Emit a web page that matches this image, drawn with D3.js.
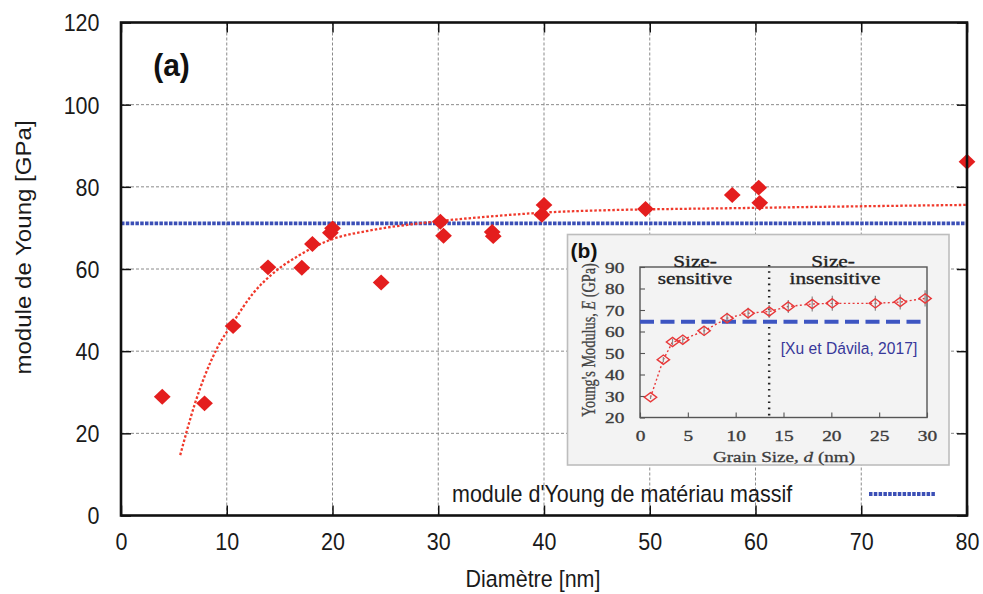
<!DOCTYPE html>
<html><head><meta charset="utf-8">
<script src="https://cdn.jsdelivr.net/npm/d3@7"></script>
<style>html,body{margin:0;padding:0;background:#fff;} svg{display:block;}</style>
</head><body>
<svg id="c" width="983" height="594"></svg>
<script>
// ---------- main chart data ----------
const xTicks = [0, 10, 20, 30, 40, 50, 60, 70, 80];
const yTicks = [0, 20, 40, 60, 80, 100, 120];
const diameters    = [3.9, 7.9, 10.6, 13.9, 17.1, 18.1, 20.0, 19.8, 24.6, 30.2, 30.5, 35.1, 35.2, 40.0, 39.8, 49.6, 57.8, 60.3, 60.4, 80.0];
const youngModulus = [28.9, 27.3, 46.1, 60.4, 60.3, 66.1, 69.9, 68.8, 56.7, 71.5, 68.1, 69.0, 68.0, 75.6, 73.2, 74.6, 78.0, 79.8, 76.1, 86.1];
const fitDiameters = [5.6, 7.0, 9.0, 10.6, 12.5, 14.4, 16.9, 19.4, 23.8, 28.2, 34.5, 42.1, 60.4, 80.0];
const fitModulus   = [14.7, 27.3, 40.3, 47.0, 54.1, 59.0, 63.4, 66.7, 69.5, 71.1, 72.7, 74.0, 74.9, 75.6];
const bulkModulus = 71.1;
const legendLabel = "module d'Young de matériau massif";
const xLabel = "Diamètre [nm]";
const yLabel = "module de Young [GPa]";

// ---------- inset (b) data ----------
const insetXTicks = [0, 5, 10, 15, 20, 25, 30];
const insetYTicks = [20, 30, 40, 50, 60, 70, 80, 90];
const insetGrain   = [1.1, 2.44, 3.4, 4.47, 6.7, 9.1, 11.3, 13.5, 15.5, 18.0, 20.1, 24.6, 27.2, 29.8];
const insetModulus = [29.4, 46.9, 55.1, 56.2, 60.3, 66.2, 68.5, 69.3, 71.6, 72.8, 73.1, 73.1, 73.7, 75.4];
const insetError   = [0.8, 1.2, 1.5, 1.5, 2.0, 2.5, 2.5, 3.0, 3.0, 3.5, 3.5, 3.5, 3.5, 3.8];
const insetBulk = 64.5;
const insetBoundary = 13.5;

const svg = d3.select("#c");
const FONT = "'Liberation Sans', Arial, sans-serif";
const SERIF = "'Liberation Serif', 'Times New Roman', serif";

function txt(g, px, py, str, o) {
  o = o || {};
  const t = g.append("text")
    .attr("transform", `translate(${px},${py}) rotate(${o.rot || 0}) scale(${o.sx || 1},${o.sy || 1})`)
    .attr("text-anchor", o.anchor || "middle")
    .attr("dominant-baseline", "central")
    .attr("font-family", o.family || FONT)
    .attr("font-size", o.size || 21.5)
    .attr("font-weight", o.weight || "normal")
    .attr("fill", o.fill || "#1a1a1a");
  if (o.stroke) t.attr("stroke", o.fill).attr("stroke-width", o.stroke);
  if (Array.isArray(str)) {
    str.forEach(s => t.append("tspan").attr("font-style", s.italic ? "italic" : null).text(s.t));
  } else t.text(str);
  return t;
}

// ---------- scales ----------
const x = d3.scaleLinear().domain([0, 80]).range([121, 967]);
const y = d3.scaleLinear().domain([0, 120]).range([515.5, 22.5]);

// grid
const grid = svg.append("g").attr("stroke", "#8a8a8a").attr("stroke-width", 1).attr("stroke-dasharray", "3,2");
grid.selectAll("line.v").data(xTicks.slice(1, -1)).join("line")
  .attr("x1", d => x(d)).attr("x2", d => x(d)).attr("y1", y(0)).attr("y2", y(120));
grid.selectAll("line.h").data(yTicks.slice(1, -1)).join("line")
  .attr("y1", d => y(d)).attr("y2", d => y(d)).attr("x1", x(0)).attr("x2", x(80));

// axes (inward ticks, mirrored)
const SY = 1.12;
const gL = svg.append("g").attr("transform", `translate(${x(0)},0)`)
  .call(d3.axisLeft(y).tickValues(yTicks).tickSizeInner(-10).tickSizeOuter(0).tickPadding(21.5));
const gB = svg.append("g").attr("transform", `translate(0,${y(0)})`)
  .call(d3.axisBottom(x).tickValues(xTicks).tickSizeInner(-10).tickSizeOuter(0));
const gR = svg.append("g").attr("transform", `translate(${x(80)},0)`)
  .call(d3.axisRight(y).tickValues(yTicks).tickSizeInner(-10).tickSizeOuter(0).tickFormat(""));
const gT = svg.append("g").attr("transform", `translate(0,${y(120)})`)
  .call(d3.axisTop(x).tickValues(xTicks).tickSizeInner(-10).tickSizeOuter(0).tickFormat(""));
[gL, gB, gR, gT].forEach(g => {
  g.select(".domain").remove();
  g.selectAll("line").attr("stroke", "#111").attr("stroke-width", 1.5);
  g.selectAll("text").attr("font-family", FONT).attr("font-size", 21.5).attr("fill", "#1a1a1a");
});
gL.selectAll("text").attr("dy", null).attr("dominant-baseline", "central").attr("transform", `scale(1,${SY})`);
gB.selectAll("text").attr("dy", null).attr("dominant-baseline", "central").attr("y", 26 / SY).attr("transform", `scale(1,${SY})`);

// bulk modulus line
const lineGen = d3.line().x(d => x(d[0])).y(d => y(d[1]));
svg.append("path").datum([[0, bulkModulus], [80, bulkModulus]])
  .attr("d", lineGen).attr("fill", "none").attr("stroke", "#3b4fb6").attr("stroke-width", 3.8)
  .attr("stroke-dasharray", "3.5,1.3");

// fit curve
const fitLine = d3.line().x(d => x(d[0])).y(d => y(d[1])).curve(d3.curveMonotoneX);
svg.append("path").datum(fitDiameters.map((d, i) => [d, fitModulus[i]]))
  .attr("d", fitLine).attr("fill", "none").attr("stroke", "#f0392b").attr("stroke-width", 2.3)
  .attr("stroke-dasharray", "2.5,2");

// markers
const diamond = d3.symbol().type(d3.symbolSquare).size(140);
svg.append("g").selectAll("path").data(diameters.map((d, i) => [d, youngModulus[i]])).join("path")
  .attr("d", diamond)
  .attr("transform", d => `translate(${x(d[0])},${y(d[1])}) scale(1,0.95) rotate(45)`)
  .attr("fill", "#e41e1e");

// ---------- inset ----------
const ins = svg.append("g");
ins.append("rect").attr("x", 567.5).attr("y", 234.5).attr("width", 381.5).attr("height", 230.5)
  .attr("fill", "#f3f3f3").attr("stroke", "#bdbdbd").attr("stroke-width", 1.6);

const xi = d3.scaleLinear().domain([0, 30]).range([640, 927]);
const yi = d3.scaleLinear().domain([20, 90]).range([417.5, 267]);
const ISX = 1.25;

const iL = ins.append("g").attr("transform", `translate(${xi(0)},0)`)
  .call(d3.axisLeft(yi).tickValues(insetYTicks).tickSizeInner(-5).tickSizeOuter(0));
const iB = ins.append("g").attr("transform", `translate(0,${yi(20)})`)
  .call(d3.axisBottom(xi).tickValues(insetXTicks).tickSizeInner(-5).tickSizeOuter(0));
[iL, iB].forEach(g => {
  g.select(".domain").remove();
  g.selectAll("line").attr("stroke", "#555").attr("stroke-width", 1.1);
  g.selectAll("text").attr("font-family", SERIF).attr("font-size", 15.5).attr("fill", "#3c3c3c")
    .attr("stroke", "#3c3c3c").attr("stroke-width", 0.35)
    .attr("dy", null).attr("dominant-baseline", "central");
});
iL.selectAll("text").attr("x", -15.7 / ISX).attr("transform", `scale(${ISX},1)`);
iB.selectAll("text").attr("y", 18).attr("transform", `scale(${ISX},1)`);

// inner frame
ins.append("rect").attr("x", xi(0)).attr("y", yi(90)).attr("width", xi(30) - xi(0)).attr("height", yi(20) - yi(90))
  .attr("fill", "none").attr("stroke", "#555").attr("stroke-width", 1.4);

// boundary (dotted vertical)
ins.append("line").attr("x1", xi(insetBoundary)).attr("x2", xi(insetBoundary))
  .attr("y1", yi(90) - 2).attr("y2", yi(20))
  .attr("stroke", "#222").attr("stroke-width", 2.4).attr("stroke-dasharray", "1.6,4.6");

// reference dashed line
ins.append("path").datum([[0, insetBulk], [30, insetBulk]])
  .attr("d", d3.line().x(d => xi(d[0])).y(d => yi(d[1])))
  .attr("fill", "none").attr("stroke", "#3d55c2").attr("stroke-width", 4).attr("stroke-dasharray", "14,6.5");

// data connecting line
const insData = insetGrain.map((d, i) => [d, insetModulus[i], insetError[i]]);
ins.append("path").datum(insData)
  .attr("d", d3.line().x(d => xi(d[0])).y(d => yi(d[1])))
  .attr("fill", "none").attr("stroke", "#e8393a").attr("stroke-width", 1.4).attr("stroke-dasharray", "2,2.4");

// error bars
ins.append("g").selectAll("line").data(insData).join("line")
  .attr("x1", d => xi(d[0])).attr("x2", d => xi(d[0]))
  .attr("y1", d => yi(d[1] - d[2])).attr("y2", d => yi(d[1] + d[2]))
  .attr("stroke", "#888").attr("stroke-width", 1.2);

// open diamonds
const idiam = d3.symbol().type(d3.symbolSquare).size(76);
ins.append("g").selectAll("path").data(insData).join("path")
  .attr("d", idiam)
  .attr("transform", d => `translate(${xi(d[0])},${yi(d[1])}) scale(1,0.75) rotate(45)`)
  .attr("fill", "none").attr("stroke", "#e8393a").attr("stroke-width", 1.4)
  .attr("vector-effect", "non-scaling-stroke");

// inset texts
txt(ins, 584, 250, "(b)", { size: 21, weight: "bold", fill: "#111" });
txt(ins, 695, 261.5, "Size-", { family: SERIF, size: 17, sx: ISX, fill: "#222", stroke: 0.35 });
txt(ins, 695, 278, "sensitive", { family: SERIF, size: 17, sx: ISX, fill: "#222", stroke: 0.35 });
txt(ins, 833, 261.5, "Size-", { family: SERIF, size: 17, sx: ISX, fill: "#222", stroke: 0.35 });
txt(ins, 835, 278, "insensitive", { family: SERIF, size: 17, sx: ISX, fill: "#222", stroke: 0.35 });
txt(ins, 849, 348, "[Xu et Dávila, 2017]", { size: 17, sx: 0.92, fill: "#38389a" });
txt(ins, 588, 340, [{ t: "Young's Modulus, " }, { t: "E", italic: true }, { t: " (GPa)" }],
  { family: SERIF, size: 14.3, rot: -90, sy: ISX, fill: "#444", stroke: 0.25 });
txt(ins, 784, 456.5, [{ t: "Grain Size, " }, { t: "d", italic: true }, { t: " (nm)" }],
  { family: SERIF, size: 15.3, sx: ISX, fill: "#3c3c3c", stroke: 0.3 });

// ---------- frame ----------
svg.append("rect").attr("x", x(0)).attr("y", y(120)).attr("width", x(80) - x(0)).attr("height", y(0) - y(120))
  .attr("fill", "none").attr("stroke", "#111").attr("stroke-width", 2.6);

// legend
txt(svg, 452, 494, legendLabel, { anchor: "start", sy: SY });
svg.append("path").datum([[869, 494], [936, 494]])
  .attr("d", d3.line()).attr("stroke", "#3b4fb6").attr("stroke-width", 3.8).attr("stroke-dasharray", "3.5,1.3");

// labels
txt(svg, 171.5, 65, "(a)", { size: 30, weight: "bold", sy: 1.05, fill: "#111" });
txt(svg, 533, 579, xLabel, { sy: SY });
txt(svg, 23, 247.5, yLabel, { rot: -90, sx: SY });
</script>
</body></html>
